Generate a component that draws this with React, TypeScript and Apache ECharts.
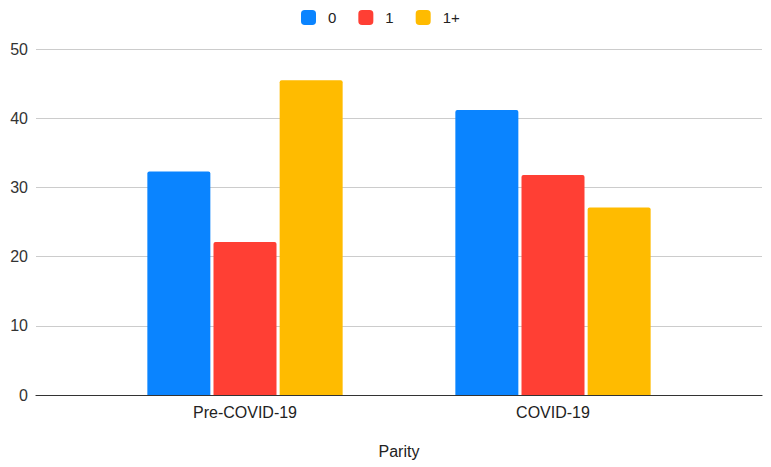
import React, { useEffect, useRef } from "react";
import * as echarts from "echarts";

const categories = ["Pre-COVID-19", "COVID-19"];
const seriesNames = ["0", "1", "1+"];
const values0 = [32.3, 41.2];
const values1 = [22.1, 31.8];
const values1plus = [45.5, 27.1];
const yTicks = { min: 0, max: 50, interval: 10 };

const colors = ["#0a84ff", "#ff3f34", "#ffbb00"];
const FONT = "Liberation Sans, Arial, sans-serif";

export default function App() {
  const ref = useRef<HTMLDivElement>(null);

  useEffect(() => {
    if (!ref.current) return;
    const chart = echarts.init(ref.current, null, { renderer: "svg" });
    const seriesData = [values0, values1, values1plus];

    chart.setOption({
      animation: false,
      textStyle: { fontFamily: FONT },
      legend: {
        top: 5,
        left: 296,
        itemWidth: 15,
        itemHeight: 15,
        itemGap: 22,
        icon: "roundRect",
        textStyle: { fontSize: 15, color: "#222", fontFamily: FONT, padding: [0, 0, 0, 7] },
        data: seriesNames,
      },
      grid: [
        { left: 36, right: 9, top: 49, height: 346, outerBoundsMode: "none", containLabel: false },
        { left: 91, right: 64, top: 49, height: 346, outerBoundsMode: "none", containLabel: false },
      ],
      xAxis: [
        {
          gridIndex: 0,
          type: "value",
          min: 0,
          max: 1,
          axisLine: { show: true, lineStyle: { color: "#333", width: 1.2 } },
          axisTick: { show: false },
          axisLabel: { show: false },
          splitLine: { show: false },
        },
        {
          gridIndex: 1,
          type: "category",
          data: categories,
          axisLine: { show: false },
          axisTick: { show: false },
          axisLabel: { fontSize: 16, color: "#222", margin: 9, fontFamily: FONT },
          name: "Parity",
          nameLocation: "middle",
          nameGap: 48,
          nameTextStyle: { fontSize: 16, color: "#222", fontFamily: FONT },
        },
      ],
      yAxis: [
        {
          gridIndex: 0,
          type: "value",
          min: yTicks.min,
          max: yTicks.max,
          interval: yTicks.interval,
          axisLine: { show: false },
          axisTick: { show: false },
          axisLabel: { fontSize: 16, color: "#333", margin: 8, fontFamily: FONT },
          splitLine: { show: true, lineStyle: { color: "#cccccc", width: 1 } },
        },
        {
          gridIndex: 1,
          type: "value",
          min: yTicks.min,
          max: yTicks.max,
          interval: yTicks.interval,
          show: false,
          splitLine: { show: false },
        },
      ],
      series: seriesNames.map((name, i) => ({
        name,
        type: "bar",
        xAxisIndex: 1,
        yAxisIndex: 1,
        data: seriesData[i],
        barWidth: 63,
        barGap: "5%",
        itemStyle: { color: colors[i], borderRadius: [2, 2, 0, 0] },
      })),
    });

    return () => chart.dispose();
  }, []);

  return <div ref={ref} style={{ width: 771, height: 467, position: "absolute", left: 0, top: 0 }} />;
}
